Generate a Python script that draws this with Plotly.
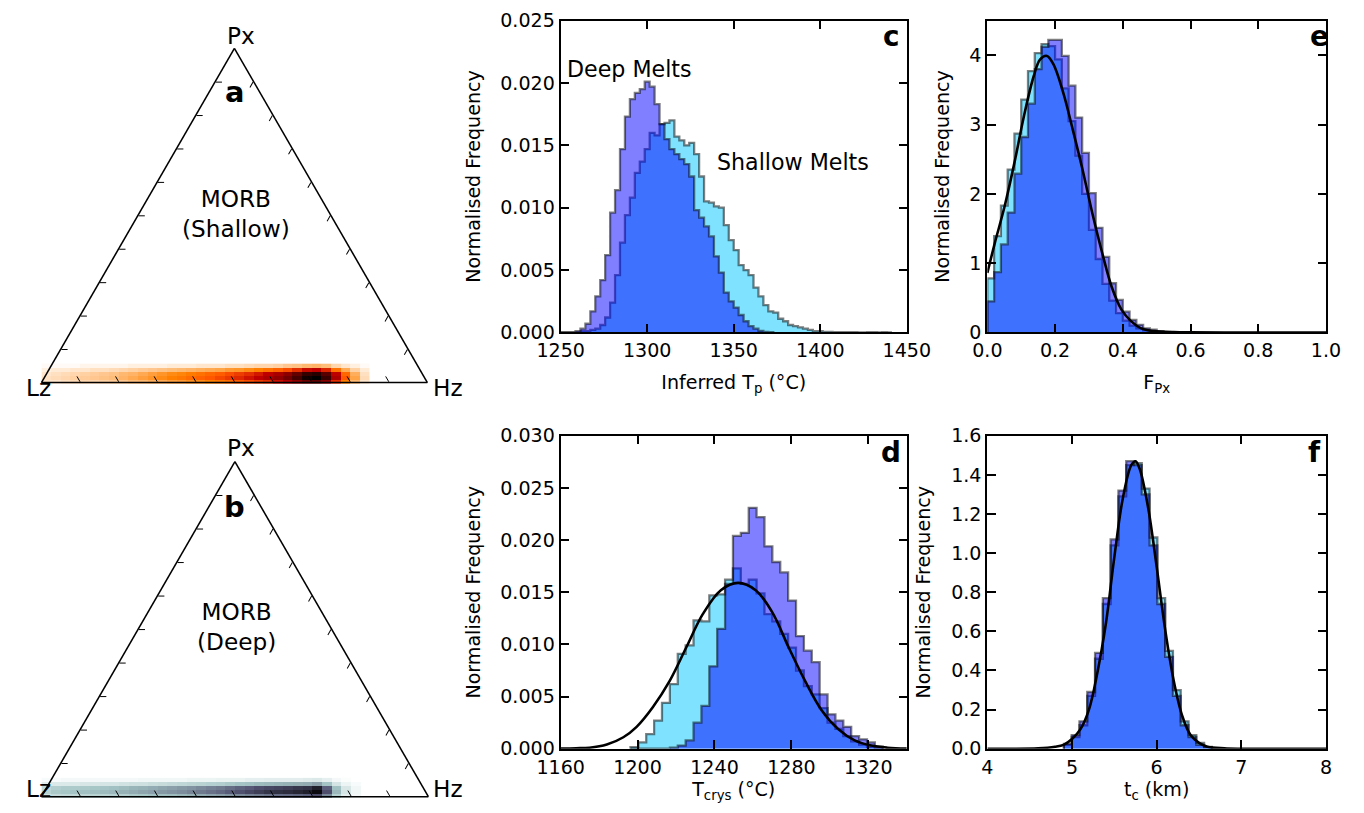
import numpy as np
import plotly.graph_objects as go

W, H = 1364, 813
FONT = "DejaVu Sans"

# ---------------- panel c : inferred Tp ----------------
c_bin_start = 1250.0
c_bin_width = 200.0 / 70
c_deep = [0, 0, 0, 0.0001, 0.0003, 0.0007, 0.0017, 0.0029, 0.0042, 0.0062, 0.0096, 0.0114,
          0.0147, 0.0173, 0.0187, 0.0192, 0.0195, 0.0201, 0.0197, 0.0183, 0.0167, 0.0155,
          0.0147, 0.0143, 0.0139, 0.0135, 0.0125, 0.0098, 0.0092, 0.0085, 0.0077, 0.0061,
          0.0048, 0.0032, 0.0025, 0.0020, 0.0014, 0.0009, 0.0005, 0.0003, 0.00013, 0.00005,
          0.00002]
c_shallow = [0, 0, 0, 0, 0.0001, 0.0001, 0.0002, 0.0003, 0.0006, 0.0012, 0.0024, 0.0046,
             0.0072, 0.0094, 0.0108, 0.0128, 0.0137, 0.0147, 0.0160, 0.0158, 0.0167, 0.0168,
             0.0170, 0.0157, 0.0154, 0.0150, 0.0152, 0.0143, 0.0125, 0.0105, 0.0104, 0.0101,
             0.0100, 0.0086, 0.0074, 0.0066, 0.0054, 0.0050, 0.0046, 0.0036, 0.0029, 0.0022,
             0.0017, 0.0016, 0.0011, 0.0009, 0.0006, 0.0005, 0.0004, 0.0003, 0.0002, 0.0001,
             0.0001, 0.00005, 0.00005, 0.00003, 0.00003, 0.00002, 0.00002, 0.00002, 0.00001,
             0, 0.00002, 0.00002, 0.00001, 0.00002, 0]
c_xticks = [1250, 1300, 1350, 1400, 1450]
c_yticks = [0, 0.005, 0.010, 0.015, 0.020, 0.025]

# ---------------- panel d : T crys ----------------
d_bin_start = 1196.3
d_bin_width = 4.1
d_shallow = [0.00016, 0.0006, 0.0014, 0.0027, 0.0044, 0.0062, 0.0091, 0.0099, 0.0123, 0.0122,
             0.0147, 0.0148, 0.0162, 0.0173, 0.0158, 0.0162, 0.0149, 0.0129, 0.0122, 0.0110,
             0.0097, 0.0075, 0.0060, 0.0052, 0.0039, 0.0025, 0.0019, 0.0012, 0.0007, 0.0004,
             0.00016, 0.00005]
d_deep = [0, 0, 0, 0, 0, 0.0001, 0.0003, 0.0008, 0.0025, 0.0041, 0.0079, 0.0115, 0.0158,
          0.0204, 0.0207, 0.0231, 0.0222, 0.0194, 0.0179, 0.0169, 0.0142, 0.0108, 0.0094,
          0.0083, 0.0052, 0.0033, 0.0027, 0.0021, 0.0012, 0.0009, 0.0006, 0.0002]
d_fit_x = [1160, 1168, 1175, 1184, 1192.6, 1199.5, 1208, 1216.7, 1225.3, 1233.9, 1243.3, 1252.3,
           1261.4, 1270, 1278.6, 1287.1, 1295.7, 1304.3, 1312.9, 1321.5, 1330, 1340]
d_fit_y = [0.00002, 0.00005, 0.0001, 0.0004, 0.0011, 0.0021, 0.0040, 0.0065, 0.0097, 0.0129,
           0.0152, 0.0159, 0.0152, 0.0131, 0.0097, 0.0065, 0.0037, 0.0019, 0.0008, 0.0003,
           0.0001, 0.00002]
d_xticks = [1160, 1200, 1240, 1280, 1320]
d_yticks = [0, 0.005, 0.010, 0.015, 0.020, 0.025, 0.030]

# ---------------- panel e : F_Px ----------------
e_bin_start = 0.0
e_bin_width = 0.02
e_shallow = [0.78, 1.39, 1.83, 2.35, 2.87, 3.36, 3.77, 4.03, 4.16, 4.13, 3.94, 3.52, 3.05,
             2.55, 2.00, 1.48, 1.06, 0.70, 0.46, 0.28, 0.17, 0.10, 0.06, 0.03, 0.02, 0.01]
e_deep = [0.45, 0.87, 1.27, 1.73, 2.29, 2.82, 3.30, 3.80, 4.12, 4.22, 4.22, 3.99, 3.56, 3.10,
          2.59, 2.01, 1.51, 1.09, 0.71, 0.47, 0.30, 0.18, 0.11, 0.06, 0.04, 0.02, 0.01]
e_fit_x = [0.0, 0.022, 0.051, 0.080, 0.108, 0.137, 0.156, 0.176, 0.195, 0.224, 0.252, 0.281,
           0.310, 0.339, 0.367, 0.396, 0.425, 0.454, 0.492, 0.55, 0.60, 0.70, 1.0]
e_fit_y = [0.86, 1.29, 1.82, 2.45, 3.12, 3.70, 3.94, 3.99, 3.87, 3.46, 2.93, 2.35, 1.72, 1.15,
           0.66, 0.33, 0.16, 0.06, 0.02, 0.005, 0.001, 0.0, 0.0]
e_xticks = [0.0, 0.2, 0.4, 0.6, 0.8, 1.0]
e_yticks = [0, 1, 2, 3, 4]

# ---------------- panel f : t_c ----------------
f_bin_start = 4.904
f_bin_width = 0.092
f_shallow = [0.02, 0.06, 0.12, 0.27, 0.46, 0.74, 1.04, 1.29, 1.45, 1.46, 1.33, 1.08, 0.77,
             0.50, 0.30, 0.14, 0.07, 0.03, 0.01]
f_deep = [0.025, 0.07, 0.14, 0.29, 0.49, 0.77, 1.07, 1.32, 1.47, 1.45, 1.30, 1.04, 0.74,
          0.47, 0.27, 0.12, 0.06, 0.02, 0.008]
f_fit_x = [4.0, 4.6, 4.8, 4.9, 5.0, 5.1, 5.2, 5.3, 5.4, 5.5, 5.6, 5.7, 5.75, 5.8, 5.9, 6.0,
           6.1, 6.2, 6.3, 6.4, 6.5, 6.6, 6.8, 7.0, 8.0]
f_fit_y = [0.0, 0.002, 0.01, 0.02, 0.05, 0.10, 0.20, 0.39, 0.64, 0.98, 1.28, 1.45, 1.47, 1.43,
           1.23, 0.93, 0.61, 0.35, 0.17, 0.07, 0.03, 0.01, 0.002, 0.0, 0.0]
f_xticks = [4, 5, 6, 7, 8]
f_yticks = [0.0, 0.2, 0.4, 0.6, 0.8, 1.0, 1.2, 1.4, 1.6]

# ---------------- ternary densities (a: shallow, b: deep) ----------------
# columns: fraction along the Lz-Hz base; rows: Px fraction
base_pos = [round(0.0125 + 0.025 * i, 4) for i in range(34)]
px_rows = [0.006, 0.018, 0.030, 0.042, 0.054]
dens_a = [
    [0.05, 0.05, 0.06, 0.07, 0.08, 0.08, 0.09, 0.10, 0.11, 0.13, 0.14, 0.16, 0.17, 0.19, 0.20, 0.22, 0.23,
     0.25, 0.27, 0.29, 0.32, 0.35, 0.38, 0.41, 0.47, 0.53, 0.62, 0.71, 0.75, 0.64, 0.41, 0.25, 0.14, 0.05],
    [0.06, 0.07, 0.08, 0.09, 0.10, 0.11, 0.12, 0.13, 0.15, 0.17, 0.19, 0.21, 0.23, 0.25, 0.27, 0.29, 0.31,
     0.33, 0.36, 0.39, 0.42, 0.46, 0.50, 0.55, 0.62, 0.70, 0.82, 0.95, 1.00, 0.85, 0.55, 0.33, 0.18, 0.07],
    [0.05, 0.06, 0.07, 0.08, 0.09, 0.10, 0.11, 0.12, 0.14, 0.15, 0.17, 0.19, 0.21, 0.23, 0.24, 0.26, 0.28,
     0.30, 0.32, 0.35, 0.38, 0.41, 0.45, 0.50, 0.56, 0.63, 0.74, 0.86, 0.90, 0.77, 0.50, 0.30, 0.16, 0.06],
    [0.03, 0.04, 0.04, 0.05, 0.05, 0.06, 0.06, 0.07, 0.08, 0.09, 0.10, 0.11, 0.12, 0.13, 0.14, 0.15, 0.16,
     0.17, 0.18, 0.20, 0.21, 0.23, 0.25, 0.28, 0.31, 0.35, 0.41, 0.48, 0.50, 0.43, 0.28, 0.17, 0.09, 0.04],
    [0.01, 0.01, 0.01, 0.01, 0.02, 0.02, 0.02, 0.02, 0.02, 0.03, 0.03, 0.03, 0.03, 0.04, 0.04, 0.04, 0.05,
     0.05, 0.05, 0.06, 0.06, 0.07, 0.08, 0.08, 0.09, 0.11, 0.12, 0.14, 0.15, 0.13, 0.08, 0.05, 0.03, 0.01],
]
dens_b = [
    [0.14, 0.17, 0.18, 0.18, 0.19, 0.20, 0.20, 0.21, 0.22, 0.24, 0.25, 0.27, 0.28, 0.29, 0.31, 0.33, 0.35,
     0.37, 0.39, 0.42, 0.45, 0.48, 0.50, 0.53, 0.55, 0.56, 0.58, 0.60, 0.67, 0.46, 0.21, 0.08, 0.03, 0.0],
    [0.20, 0.24, 0.25, 0.26, 0.27, 0.28, 0.29, 0.30, 0.32, 0.34, 0.36, 0.38, 0.40, 0.42, 0.44, 0.47, 0.50,
     0.53, 0.56, 0.60, 0.64, 0.68, 0.72, 0.76, 0.78, 0.80, 0.83, 0.86, 0.95, 0.65, 0.30, 0.12, 0.04, 0.0],
    [0.18, 0.22, 0.23, 0.23, 0.24, 0.25, 0.26, 0.27, 0.29, 0.31, 0.32, 0.34, 0.36, 0.38, 0.40, 0.42, 0.45,
     0.48, 0.50, 0.54, 0.58, 0.61, 0.65, 0.68, 0.70, 0.72, 0.75, 0.77, 0.86, 0.59, 0.27, 0.11, 0.04, 0.0],
    [0.08, 0.10, 0.10, 0.10, 0.11, 0.11, 0.12, 0.12, 0.13, 0.14, 0.14, 0.15, 0.16, 0.17, 0.18, 0.19, 0.20,
     0.21, 0.22, 0.24, 0.26, 0.27, 0.29, 0.30, 0.31, 0.32, 0.33, 0.34, 0.38, 0.26, 0.12, 0.05, 0.02, 0.0],
    [0.02, 0.02, 0.03, 0.03, 0.03, 0.03, 0.03, 0.03, 0.03, 0.03, 0.04, 0.04, 0.04, 0.04, 0.04, 0.05, 0.05,
     0.05, 0.06, 0.06, 0.06, 0.07, 0.07, 0.08, 0.08, 0.08, 0.08, 0.09, 0.10, 0.07, 0.03, 0.01, 0.0, 0.0],
]

# ---------------- layout helpers ----------------
# the photographed page comes out slightly shrunk about its centre; lay out in
# target-pixel terms and expand accordingly
S = 0.97
CX, CY = 682.0, 406.5


def dx(t):
    return CX + (t - CX) / S


def dy(t):
    return CY + (t - CY) / S


def xdom(l, r):
    return [dx(l) / W, dx(r) / W]


def ydom(top, bottom):
    return [1 - dy(bottom) / H, 1 - dy(top) / H]


def fs(size):
    return size / S


def step_xy(start, width, vals):
    edges = start + width * np.arange(len(vals) + 1)
    xs = [edges[0]] + list(edges[:-1]) + [edges[-1], edges[-1]]
    ys = [0] + list(vals) + [vals[-1], 0]
    return xs, ys


SHALLOW_FILL = "rgba(0,200,255,0.5)"
DEEP_FILL = "rgba(0,0,255,0.5)"
EDGE = "rgba(0,0,0,0.5)"

fig = go.Figure()


def add_hist(start, width, vals, fill, xa, ya):
    xs, ys = step_xy(start, width, vals)
    fig.add_trace(go.Scatter(x=xs, y=ys, mode="lines", fill="tozeroy", fillcolor=fill,
                             line=dict(shape="hv", color=EDGE, width=fs(2.2)),
                             xaxis=xa, yaxis=ya, hoverinfo="skip", showlegend=False))


def add_fit(xs, ys, xa, ya):
    fig.add_trace(go.Scatter(x=xs, y=ys, mode="lines",
                             line=dict(color="black", width=fs(2.5), shape="spline"),
                             xaxis=xa, yaxis=ya, hoverinfo="skip", showlegend=False))


add_hist(c_bin_start, c_bin_width, c_shallow, SHALLOW_FILL, "x", "y")
add_hist(c_bin_start, c_bin_width, c_deep, DEEP_FILL, "x", "y")
add_hist(d_bin_start, d_bin_width, d_shallow, SHALLOW_FILL, "x2", "y2")
add_hist(d_bin_start, d_bin_width, d_deep, DEEP_FILL, "x2", "y2")
add_fit(d_fit_x, d_fit_y, "x2", "y2")
add_hist(e_bin_start, e_bin_width, e_shallow, SHALLOW_FILL, "x3", "y3")
add_hist(e_bin_start, e_bin_width, e_deep, DEEP_FILL, "x3", "y3")
add_fit(e_fit_x, e_fit_y, "x3", "y3")
add_hist(f_bin_start, f_bin_width, f_shallow, SHALLOW_FILL, "x4", "y4")
add_hist(f_bin_start, f_bin_width, f_deep, DEEP_FILL, "x4", "y4")
add_fit(f_fit_x, f_fit_y, "x4", "y4")

GIST_HEAT_R = [[0, "rgb(255,255,255)"], [0.25, "rgb(255,128,0)"], [0.3333, "rgb(255,85,0)"],
               [0.5, "rgb(191,0,0)"], [1, "rgb(0,0,0)"]]
BONE_R = [[0, "rgb(255,255,255)"], [0.254, "rgb(166,198,198)"], [0.635, "rgb(81,81,113)"],
          [1, "rgb(0,0,0)"]]


def clean(z):
    return [[(v if v > 0 else None) for v in row] for row in z]


fig.add_trace(go.Heatmap(x=base_pos, y=px_rows, z=clean(dens_a), colorscale=GIST_HEAT_R, zmin=0, zmax=1,
                         showscale=False, hoverinfo="skip", xaxis="x5", yaxis="y5"))
fig.add_trace(go.Heatmap(x=base_pos, y=px_rows, z=clean(dens_b), colorscale=BONE_R, zmin=0, zmax=1,
                         showscale=False, hoverinfo="skip", xaxis="x6", yaxis="y6"))
fig.add_trace(go.Scatterternary(a=[], b=[], c=[], subplot="ternary", showlegend=False))
fig.add_trace(go.Scatterternary(a=[], b=[], c=[], subplot="ternary2", showlegend=False))

TS = fs(18.5)
tick_font = dict(family=FONT, size=TS, color="black")


def ax(dom, rng, tickvals, ticktext, title=None, anchor=None, standoff=None):
    d = dict(domain=dom, range=rng, showline=True, linecolor="black", linewidth=fs(2), mirror="ticks",
             ticks="inside", ticklen=fs(8), tickwidth=fs(1.5), tickcolor="black", showgrid=False,
             zeroline=False, tickvals=tickvals, ticktext=ticktext, tickfont=tick_font, anchor=anchor)
    if title:
        d["title"] = dict(text=title, font=dict(family=FONT, size=TS, color="black"))
        if standoff is not None:
            d["title"]["standoff"] = standoff
    return d


C_X = xdom(560, 908)
E_X = [dx(989) / W, 1349.5 / W]
TOP_Y, BOT_Y = ydom(21.7, 332.7), ydom(435.7, 747.7)

layout = dict(
    width=W, height=H, margin=dict(l=0, r=0, t=0, b=0),
    paper_bgcolor="white", plot_bgcolor="rgba(0,0,0,0)", showlegend=False,
    font=dict(family=FONT, color="black"),
    xaxis=ax(C_X, [1250, 1450], c_xticks, [str(v) for v in c_xticks], "Inferred T<sub>p</sub> (°C)", "y"),
    yaxis=ax(TOP_Y, [0, 0.025], c_yticks, [f"{v:.3f}" for v in c_yticks], "Normalised Frequency", "x"),
    xaxis2=ax(C_X, [1160, 1340], d_xticks, [str(v) for v in d_xticks], "T<sub>crys</sub> (°C)", "y2", 5),
    yaxis2=ax(BOT_Y, [0, 0.030], d_yticks, [f"{v:.3f}" for v in d_yticks], "Normalised Frequency", "x2"),
    xaxis3=ax(E_X, [0, 1], e_xticks, [f"{v:.1f}" for v in e_xticks], "F<sub>Px</sub>", "y3"),
    yaxis3=ax(TOP_Y, [0, 4.5], e_yticks, [str(v) for v in e_yticks], "Normalised Frequency", "x3"),
    xaxis4=ax(E_X, [4, 8], f_xticks, [str(v) for v in f_xticks], "t<sub>c</sub> (km)", "y4", 5),
    yaxis4=ax(BOT_Y, [0, 1.6], f_yticks, [f"{v:.1f}" for v in f_yticks], "Normalised Frequency", "x4"),
)

TA_X, TA_Y = xdom(38, 426), ydom(48, 384)
TB_X, TB_Y = xdom(38, 427), ydom(460, 797)
for i, (ddx, ddy) in zip((5, 6), ((TA_X, TA_Y), (TB_X, TB_Y))):
    layout[f"xaxis{i}"] = dict(domain=ddx, range=[0, 1], visible=False, anchor=f"y{i}")
    layout[f"yaxis{i}"] = dict(domain=ddy, range=[0, 1], visible=False, anchor=f"x{i}")


def tern_axis():
    return dict(title=dict(text=""), showticklabels=False, ticks="inside", ticklen=fs(6), tickwidth=1,
                tickcolor="black", linecolor="black", linewidth=fs(1.5), showline=True, showgrid=False,
                tick0=0, dtick=0.1)


for name, ddx, ddy in (("ternary", TA_X, TA_Y), ("ternary2", TB_X, TB_Y)):
    layout[name] = dict(domain=dict(x=ddx, y=ddy), sum=1, bgcolor="rgba(0,0,0,0)",
                        aaxis=tern_axis(), baxis=tern_axis(), caxis=tern_axis())

fig.update_layout(**layout)


def ann(text, tx, ty, size, bold=False, xanchor="center", raw=False):
    xd = tx if raw else dx(tx)
    yd = ty if raw else dy(ty)
    fig.add_annotation(text=f"<b>{text}</b>" if bold else text, x=xd / W, y=1 - yd / H,
                       xref="paper", yref="paper", showarrow=False, xanchor=xanchor, yanchor="middle",
                       font=dict(family=FONT, size=fs(size), color="black"))


ann("c", 893, 38, 27, True)
ann("d", 892, 452, 27, True)
ann("e", 1323, 38, 27, True)
ann("f", 1318, 452, 27, True)
ann("a", 232, 93, 28, True)
ann("b", 232, 507, 28, True)
ann("Deep Melts", 564, 70, 21.5, xanchor="left")
ann("Shallow Melts", 715, 163, 21.5, xanchor="left")
ann("MORB<br>(Shallow)", 234, 214, 22.5)
ann("MORB<br>(Deep)", 234, 626, 22.5)
ann("Px", 239, 37, 22.5)
ann("Lz", 15, dy(388), 22.5, raw=True)
ann("Hz", dx(447), dy(388), 22.5, raw=True)
ann("Px", 239, 447, 22.5)
ann("Lz", 15, 799, 22.5, raw=True)
ann("Hz", dx(447), 799, 22.5, raw=True)

fig.write_html("out.html")
